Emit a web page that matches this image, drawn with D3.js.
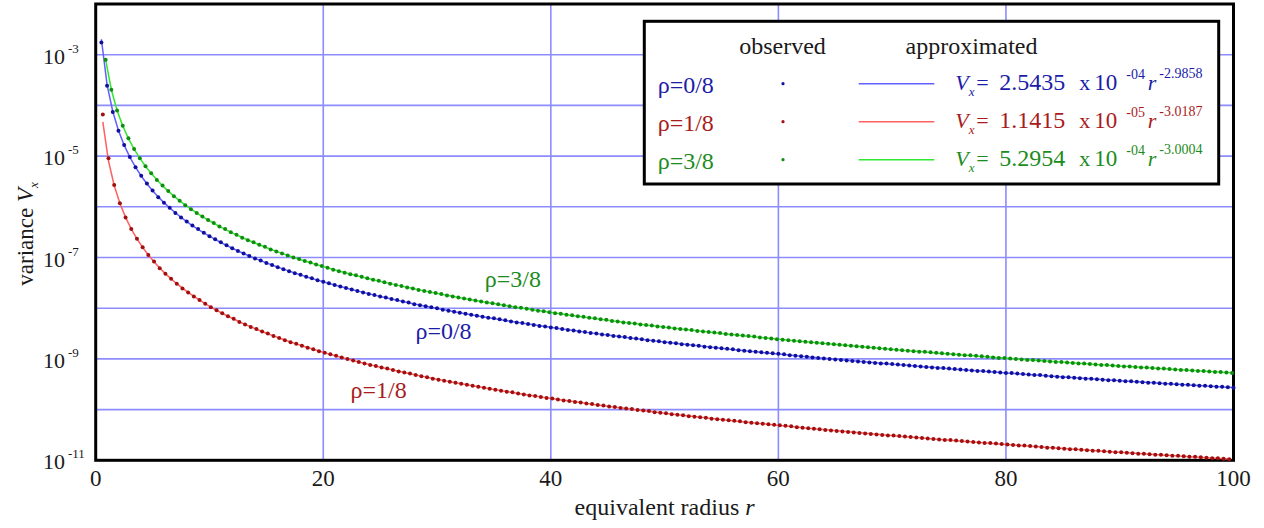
<!DOCTYPE html>
<html>
<head>
<meta charset="utf-8">
<script src="https://cdn.jsdelivr.net/npm/d3@7"></script>
<style>
	body { margin: 0; background: #fff; }
</style>
</head>
<body>
<div id="chart"></div>
<script>
// Data
const radiusStep = 0.5
const seriesLabels = ['ρ=0/8', 'ρ=1/8', 'ρ=3/8']
const firstRadius = [0.5, 0.625, 0.875]
const fitCoefficient = [2.5435e-4, 1.1415e-5, 5.2954e-4]
const fitExponent = [-2.9858, -3.0187, -3.0004]

// log10 of the observed variance
const observedLogRho0 = [
	-2.76, -3.61, -4.13, -4.50, -4.78, -5.02, -5.22, -5.39, -5.54, -5.68,
	-5.81, -5.92, -6.02, -6.12, -6.21, -6.29, -6.37, -6.44, -6.51, -6.58,
	-6.64, -6.70, -6.76, -6.82, -6.87, -6.92, -6.97, -7.02, -7.06, -7.11,
	-7.15, -7.19, -7.23, -7.27, -7.31, -7.34, -7.38, -7.41, -7.45, -7.48,
	-7.51, -7.54, -7.57, -7.60, -7.63, -7.66, -7.69, -7.72, -7.74, -7.77,
	-7.79, -7.82, -7.84, -7.87, -7.89, -7.92, -7.94, -7.96, -7.98, -8.00,
	-8.03, -8.05, -8.07, -8.09, -8.11, -8.13, -8.15, -8.17, -8.19, -8.20,
	-8.22, -8.24, -8.26, -8.28, -8.29, -8.31, -8.33, -8.35, -8.36, -8.38,
	-8.39, -8.41, -8.43, -8.44, -8.46, -8.47, -8.49, -8.50, -8.52, -8.53,
	-8.55, -8.56, -8.57, -8.59, -8.60, -8.61, -8.63, -8.64, -8.65, -8.67,
	-8.68, -8.69, -8.71, -8.72, -8.73, -8.74, -8.76, -8.77, -8.78, -8.79,
	-8.80, -8.81, -8.83, -8.84, -8.85, -8.86, -8.87, -8.88, -8.89, -8.90,
	-8.91, -8.93, -8.94, -8.95, -8.96, -8.97, -8.98, -8.99, -9.00, -9.01,
	-9.02, -9.03, -9.04, -9.05, -9.06, -9.07, -9.08, -9.09, -9.09, -9.10,
	-9.11, -9.12, -9.13, -9.14, -9.15, -9.16, -9.17, -9.18, -9.18, -9.19,
	-9.20, -9.21, -9.22, -9.23, -9.24, -9.24, -9.25, -9.26, -9.27, -9.28,
	-9.28, -9.29, -9.30, -9.31, -9.32, -9.32, -9.33, -9.34, -9.35, -9.36,
	-9.36, -9.37, -9.38, -9.39, -9.39, -9.40, -9.41, -9.42, -9.42, -9.43,
	-9.44, -9.44, -9.45, -9.46, -9.47, -9.47, -9.48, -9.49, -9.49, -9.50,
	-9.51, -9.51, -9.52, -9.53, -9.53, -9.54, -9.55, -9.55, -9.56, -9.57
]
const observedLogRho1 = [
	-4.18, -5.04, -5.57, -5.93, -6.21, -6.44, -6.63, -6.80, -6.95, -7.08,
	-7.21, -7.32, -7.42, -7.52, -7.61, -7.69, -7.77, -7.84, -7.91, -7.98,
	-8.04, -8.10, -8.16, -8.21, -8.27, -8.32, -8.37, -8.41, -8.46, -8.50,
	-8.55, -8.59, -8.63, -8.67, -8.70, -8.74, -8.78, -8.81, -8.85, -8.88,
	-8.91, -8.94, -8.97, -9.00, -9.03, -9.06, -9.09, -9.12, -9.14, -9.17,
	-9.19, -9.22, -9.25, -9.27, -9.29, -9.32, -9.34, -9.36, -9.39, -9.41,
	-9.43, -9.45, -9.47, -9.49, -9.51, -9.53, -9.55, -9.57, -9.59, -9.61,
	-9.63, -9.65, -9.66, -9.68, -9.70, -9.72, -9.73, -9.75, -9.77, -9.78,
	-9.80, -9.82, -9.83, -9.85, -9.86, -9.88, -9.89, -9.91, -9.92, -9.94,
	-9.95, -9.97, -9.98, -9.99, -10.01, -10.02, -10.03, -10.05, -10.06, -10.07,
	-10.09, -10.10, -10.11, -10.13, -10.14, -10.15, -10.16, -10.18, -10.19, -10.20,
	-10.21, -10.22, -10.23, -10.25, -10.26, -10.27, -10.28, -10.29, -10.30, -10.31,
	-10.32, -10.33, -10.35, -10.36, -10.37, -10.38, -10.39, -10.40, -10.41, -10.42,
	-10.43, -10.44, -10.45, -10.46, -10.47, -10.48, -10.49, -10.50, -10.51, -10.51,
	-10.52, -10.53, -10.54, -10.55, -10.56, -10.57, -10.58, -10.59, -10.60, -10.60,
	-10.61, -10.62, -10.63, -10.64, -10.65, -10.66, -10.66, -10.67, -10.68, -10.69,
	-10.70, -10.71, -10.71, -10.72, -10.73, -10.74, -10.75, -10.75, -10.76, -10.77,
	-10.78, -10.78, -10.79, -10.80, -10.81, -10.81, -10.82, -10.83, -10.84, -10.84,
	-10.85, -10.86, -10.87, -10.87, -10.88, -10.89, -10.89, -10.90, -10.91, -10.91,
	-10.92, -10.93, -10.93, -10.94, -10.95, -10.96, -10.96, -10.97, -10.98
]
const observedLogRho3 = [
	-3.10, -3.69, -4.10, -4.40, -4.65, -4.86, -5.04, -5.20, -5.34, -5.47,
	-5.58, -5.69, -5.79, -5.88, -5.97, -6.05, -6.12, -6.19, -6.26, -6.32,
	-6.39, -6.44, -6.50, -6.55, -6.61, -6.66, -6.70, -6.75, -6.79, -6.84,
	-6.88, -6.92, -6.96, -7.00, -7.03, -7.07, -7.10, -7.14, -7.17, -7.20,
	-7.24, -7.27, -7.30, -7.33, -7.35, -7.38, -7.41, -7.44, -7.46, -7.49,
	-7.52, -7.54, -7.56, -7.59, -7.61, -7.64, -7.66, -7.68, -7.70, -7.72,
	-7.75, -7.77, -7.79, -7.81, -7.83, -7.85, -7.87, -7.89, -7.90, -7.92,
	-7.94, -7.96, -7.98, -7.99, -8.01, -8.03, -8.05, -8.06, -8.08, -8.10,
	-8.11, -8.13, -8.14, -8.16, -8.17, -8.19, -8.20, -8.22, -8.23, -8.25,
	-8.26, -8.28, -8.29, -8.30, -8.32, -8.33, -8.34, -8.36, -8.37, -8.38,
	-8.40, -8.41, -8.42, -8.43, -8.45, -8.46, -8.47, -8.48, -8.49, -8.51,
	-8.52, -8.53, -8.54, -8.55, -8.56, -8.58, -8.59, -8.60, -8.61, -8.62,
	-8.63, -8.64, -8.65, -8.66, -8.67, -8.68, -8.69, -8.70, -8.71, -8.72,
	-8.73, -8.74, -8.75, -8.76, -8.77, -8.78, -8.79, -8.80, -8.81, -8.82,
	-8.83, -8.84, -8.85, -8.86, -8.86, -8.87, -8.88, -8.89, -8.90, -8.91,
	-8.92, -8.93, -8.93, -8.94, -8.95, -8.96, -8.97, -8.98, -8.98, -8.99,
	-9.00, -9.01, -9.02, -9.02, -9.03, -9.04, -9.05, -9.06, -9.06, -9.07,
	-9.08, -9.09, -9.09, -9.10, -9.11, -9.12, -9.12, -9.13, -9.14, -9.15,
	-9.15, -9.16, -9.17, -9.17, -9.18, -9.19, -9.19, -9.20, -9.21, -9.22,
	-9.22, -9.23, -9.24, -9.24, -9.25, -9.26, -9.26, -9.27, -9.28
]

const xTicks = [0, 20, 40, 60, 80, 100]
const xGrid = [20, 40, 60, 80]
const yLabelExponents = [-3, -5, -7, -9, -11]
const yGridExponents = [-3, -4, -5, -6, -7, -8, -9, -10]

// curve labels (same order as seriesLabels), in data units
const curveLabelRadius = [28.1, 22.4, 34.2]
const curveLabelLogV = [-8.61, -9.78, -7.59]

// Styles
const fontFamily = 'Liberation Serif'
const dotColors = ['#10109c', '#a01010', '#108c10']
const lineColors = ['#6060ff', '#ff6060', '#30e830']
const textColors = ['#1c1ca8', '#a81c1c', '#1c8c1c']
const gridColor = '#8c8cff'
const inkColor = '#1a1a1a'

function draw() {
	// Dimensions
	let dimensions = {
		width: 1264,
		height: 528,
		margin: {
			top: 4,
			bottom: 67.7,
			left: 95.7,
			right: 30.5
		}
	}
	dimensions.ctrWidth = dimensions.width - dimensions.margin.left - dimensions.margin.right
	dimensions.ctrHeight = dimensions.height - dimensions.margin.top - dimensions.margin.bottom

	const observed = [observedLogRho0, observedLogRho1, observedLogRho3]
	const series = seriesLabels.map((label, i) => {
		const points = observed[i].map((lv, j) => ({
			r: firstRadius[i] + j * radiusStep,
			v: Math.pow(10, lv)
		}))
		// approximated curve from the legend coefficients
		const fit = points.map(d => ({
			r: d.r,
			v: fitCoefficient[i] * Math.pow(d.r, fitExponent[i])
		}))
		return { label, i, points, fit }
	})

	const xAccessor = d => d.r
	const yAccessor = d => d.v

	// Draw Image
	const svg = d3.select('#chart')
		.append('svg')
		.attr('width', dimensions.width)
		.attr('height', dimensions.height)
		.attr('font-family', fontFamily)
		.style('display', 'block')

	const ctr = svg.append('g')
		.attr('transform', `translate(${dimensions.margin.left}, ${dimensions.margin.top})`)

	// Scales
	const xScale = d3.scaleLinear()
		.domain([0, 100])
		.range([0, dimensions.ctrWidth])

	const yScale = d3.scaleLog()
		.domain([1e-11, 1e-2])
		.range([dimensions.ctrHeight, 0])

	// Grid
	ctr.selectAll('.hgrid')
		.data(yGridExponents)
		.join('line')
		.attr('x1', 0)
		.attr('x2', dimensions.ctrWidth)
		.attr('y1', d => yScale(Math.pow(10, d)))
		.attr('y2', d => yScale(Math.pow(10, d)))
		.attr('stroke', gridColor)
		.attr('stroke-width', 1.6)

	ctr.selectAll('.vgrid')
		.data(xGrid)
		.join('line')
		.attr('x1', d => xScale(d))
		.attr('x2', d => xScale(d))
		.attr('y1', 0)
		.attr('y2', dimensions.ctrHeight)
		.attr('stroke', gridColor)
		.attr('stroke-width', 1.6)

	// Frame
	ctr.append('rect')
		.attr('width', dimensions.ctrWidth)
		.attr('height', dimensions.ctrHeight)
		.attr('fill', 'none')
		.attr('stroke', '#000')
		.attr('stroke-width', 3)

	// Lines and dots
	const line = d3.line()
		.x(d => xScale(xAccessor(d)))
		.y(d => yScale(yAccessor(d)))

	series.forEach(s => {
		ctr.append('path')
			.datum(s.fit)
			.attr('d', line)
			.attr('fill', 'none')
			.attr('stroke', lineColors[s.i])
			.attr('stroke-width', 1.5)

		ctr.append('g')
			.selectAll('circle')
			.data(s.points)
			.join('circle')
			.attr('cx', d => xScale(xAccessor(d)))
			.attr('cy', d => yScale(yAccessor(d)))
			.attr('r', 2)
			.attr('fill', dotColors[s.i])
	})

	// Curve labels
	ctr.selectAll('.curve-label')
		.data(seriesLabels)
		.join('text')
		.attr('x', (d, i) => xScale(curveLabelRadius[i]))
		.attr('y', (d, i) => yScale(Math.pow(10, curveLabelLogV[i])))
		.attr('font-size', 24)
		.attr('fill', (d, i) => textColors[i])
		.text(d => d)

	// X tick labels
	ctr.selectAll('.xtick')
		.data(xTicks)
		.join('text')
		.attr('x', d => xScale(d))
		.attr('y', dimensions.ctrHeight + 25.7)
		.attr('text-anchor', 'middle')
		.attr('font-size', 23)
		.attr('fill', inkColor)
		.text(d => d)

	// Y tick labels
	const yLabels = ctr.selectAll('.ytick')
		.data(yLabelExponents)
		.join('text')
		.attr('x', 43 - dimensions.margin.left)
		.attr('y', d => yScale(Math.pow(10, d)) + 9)
		.attr('font-size', 22)
		.attr('fill', inkColor)
	yLabels.append('tspan')
		.text('10')
	yLabels.append('tspan')
		.attr('font-size', 13)
		.attr('dx', 3)
		.attr('dy', -11)
		.text(d => d)

	// Axis titles
	const xTitle = ctr.append('text')
		.attr('x', dimensions.ctrWidth / 2)
		.attr('y', dimensions.ctrHeight + 55)
		.attr('text-anchor', 'middle')
		.attr('font-size', 24)
		.attr('fill', inkColor)
	xTitle.append('tspan').text('equivalent radius ')
	xTitle.append('tspan').attr('font-style', 'italic').text('r')

	const yTitle = svg.append('text')
		.attr('transform', 'translate(33, 234) rotate(-90)')
		.attr('text-anchor', 'middle')
		.attr('font-size', 23)
		.attr('fill', inkColor)
	yTitle.append('tspan').text('variance ')
	yTitle.append('tspan').attr('font-style', 'italic').text('V')
	yTitle.append('tspan').attr('font-style', 'italic').attr('font-size', 13).attr('dy', 5).text('x')

	// Legend
	const legend = svg.append('g')
	legend.append('rect')
		.attr('x', 644.3)
		.attr('y', 21.3)
		.attr('width', 574.4)
		.attr('height', 162.7)
		.attr('fill', '#fff')
		.attr('stroke', '#000')
		.attr('stroke-width', 3)

	legend.selectAll('.head')
		.data(['observed', 'approximated'])
		.join('text')
		.attr('x', (d, i) => [782.5, 971.5][i])
		.attr('y', 54)
		.attr('text-anchor', 'middle')
		.attr('font-size', 24)
		.attr('fill', inkColor)
		.text(d => d)

	const rowY = i => 83.7 + i * 38
	const rows = legend.selectAll('.row')
		.data(series)
		.join('g')

	rows.append('text')
		.attr('x', 657.7)
		.attr('y', d => rowY(d.i) + 9.3)
		.attr('font-size', 24)
		.attr('fill', d => textColors[d.i])
		.text(d => d.label)

	rows.append('circle')
		.attr('cx', 783)
		.attr('cy', d => rowY(d.i))
		.attr('r', 1.6)
		.attr('fill', d => dotColors[d.i])

	rows.append('line')
		.attr('x1', 858.7)
		.attr('x2', 934.3)
		.attr('y1', d => rowY(d.i))
		.attr('y2', d => rowY(d.i))
		.attr('stroke', d => lineColors[d.i])
		.attr('stroke-width', 1.5)

	// formula text: V_x = a x 10^p r^b
	const mantissa = a => {
		const p = Math.floor(Math.log10(a))
		return (a / Math.pow(10, p)).toFixed(4)
	}
	const power = a => {
		const p = Math.floor(Math.log10(a))
		return '-' + String(-p).padStart(2, '0')
	}
	const formula = rows.append('g')
		.attr('transform', d => `translate(955.3, ${rowY(d.i) + 6.3})`)
		.attr('fill', d => textColors[d.i])

	const piece = (x, y, size, italic, textFn) => {
		formula.append('text')
			.attr('x', x)
			.attr('y', y)
			.attr('font-size', size)
			.attr('font-style', italic ? 'italic' : 'normal')
			.text(textFn)
	}
	piece(0, 0, 22, true, 'V')
	piece(13.4, 5.7, 13, true, 'x')
	piece(21, 0, 22, false, '=')
	piece(44, 0, 24, false, d => mantissa(fitCoefficient[d.i]))
	piece(124, 0, 22, false, 'x')
	piece(139, 0, 23, false, '10')
	piece(171, -11, 14, false, d => power(fitCoefficient[d.i]))
	piece(192.5, 0, 22, true, 'r')
	piece(204, -12.5, 14, false, d => fitExponent[d.i].toFixed(4))

	// serif face on every text piece
	svg.selectAll('text, tspan').attr('font-family', fontFamily)
}

draw()
</script>
</body>
</html>
